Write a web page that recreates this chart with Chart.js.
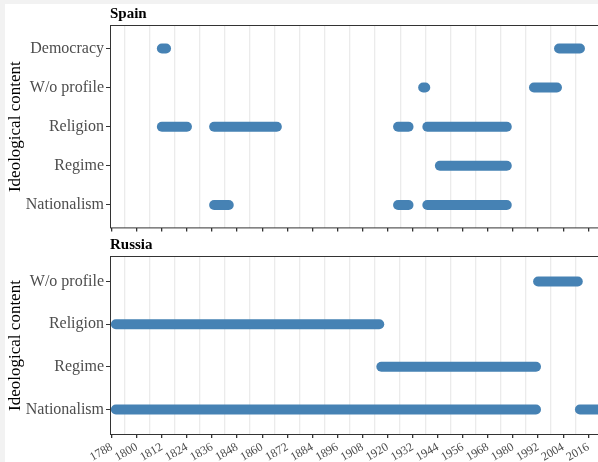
<!DOCTYPE html>
<html><head><meta charset="utf-8">
<script src="https://cdn.jsdelivr.net/npm/chart.js@4.4.0/dist/chart.umd.min.js"></script>
<style>
html,body{margin:0;padding:0;width:598px;height:462px;overflow:hidden;background:#f2f2f2;position:relative;}
#bg{position:absolute;left:5px;top:4px;width:593px;height:458px;background:#fff;}
canvas{position:absolute;left:0;}
#spain{top:0}
#russia{top:232px}
</style></head><body>
<div id="bg"></div>
<canvas id="spain" width="610" height="240"></canvas>
<canvas id="russia" width="610" height="230"></canvas>
<script>
// Tick labels on the year axis and the light vertical gridlines between them
const xTickLabels = [1788,1800,1812,1824,1836,1848,1860,1872,1884,1896,1908,1920,1932,1944,1956,1968,1980,1992,2004,2016];
const xGridYears  = [1794,1806,1818,1830,1842,1854,1866,1878,1890,1902,1914,1926,1938,1950,1962,1974,1986,1998,2010,2022];

// Spain (categories listed bottom to top)
const spainCategories = ['Nationalism','Regime','Religion','W/o profile','Democracy'];
const spainSegCategory = ['Democracy','Democracy','W/o profile','W/o profile','Religion','Religion','Religion','Religion','Regime','Nationalism','Nationalism','Nationalism'];
const spainSegStart    = [1812,2002,1937,1990,1812,1837,1925,1939,1945,1837,1925,1939];
const spainSegEnd      = [1814,2012,1938,2001,1824,1867,1930,1977,1977,1844,1930,1977];

// Russia (categories listed bottom to top)
const russiaCategories = ['Nationalism','Regime','Religion','W/o profile'];
const russiaSegCategory = ['W/o profile','Religion','Regime','Nationalism','Nationalism'];
const russiaSegStart    = [1992,1790,1917,1790,2012];
const russiaSegEnd      = [2011,1916,1991,1991,2022];

const allXTicks = xTickLabels.concat(xGridYears).sort((a,b)=>a-b);
const FONT = '"Liberation Serif", "Times New Roman", serif';
const BAR = '#4682B4';

const panelPlugin = {
  id: 'panel',
  afterDraw(chart, args, opts) {
    const {ctx, chartArea: a} = chart;
    ctx.save();
    ctx.strokeStyle = '#333333';
    ctx.lineWidth = 1;
    ctx.strokeRect(a.left + 0.5, a.top + 0.5, a.right - a.left - 1, a.bottom - a.top - 1);
    ctx.fillStyle = '#000';
    ctx.font = 'bold 15px ' + FONT;
    ctx.textAlign = 'left';
    ctx.textBaseline = 'alphabetic';
    ctx.fillText(opts.text, a.left, a.top - 7);
    ctx.restore();
  }
};

function makeChart(id, cats, segCat, segStart, segEnd, title, showX, padTop, xHeight) {
  const datasets = segStart.map((s, i) => {
    const yi = cats.indexOf(segCat[i]);
    return {
      data: [{x: s, y: yi}, {x: segEnd[i], y: yi}],
      showLine: true,
      borderColor: BAR,
      backgroundColor: BAR,
      borderWidth: 10,
      borderCapStyle: 'round',
      pointRadius: 0,
      pointHoverRadius: 0
    };
  });
  return new Chart(document.getElementById(id), {
    type: 'scatter',
    data: {datasets},
    plugins: [panelPlugin],
    options: {
      responsive: false,
      animation: false,
      devicePixelRatio: 1,
      events: [],
      layout: {padding: {top: padTop, left: 0, right: 0, bottom: 0}},
      plugins: {legend: {display: false}, tooltip: {enabled: false}, panel: {text: title}},
      scales: {
        x: {
          type: 'linear', min: 1787.19, max: 2026.38,
          afterBuildTicks: ax => { ax.ticks = allXTicks.map(v => ({value: v})); },
          afterFit: s => { s.height = xHeight; },
          ticks: {
            display: showX, autoSkip: false, minRotation: 30, maxRotation: 30, padding: 2,
            color: '#4d4d4d', font: {family: FONT, size: 12},
            callback: v => xTickLabels.includes(v) ? String(v) : ''
          },
          grid: {
            color: c => (c.tick && xGridYears.includes(c.tick.value)) ? '#ebebeb' : 'rgba(0,0,0,0)',
            lineWidth: 1.3,
            drawTicks: true, tickLength: 3,
            tickColor: c => (c.tick && xTickLabels.includes(c.tick.value)) ? '#333333' : 'rgba(0,0,0,0)'
          },
          border: {display: false}
        },
        y: {
          type: 'linear', min: -0.6, max: cats.length - 1 + 0.6,
          afterBuildTicks: ax => { ax.ticks = cats.map((c, i) => ({value: i})); },
          afterFit: s => { s.width = 110; },
          ticks: {autoSkip: false, padding: 2, color: '#4d4d4d', font: {family: FONT, size: 16}, callback: v => cats[v]},
          grid: {drawOnChartArea: false, drawTicks: true, tickLength: 4, tickColor: '#333333'},
          border: {display: false},
          title: {display: true, text: 'Ideological content', color: '#000', font: {family: FONT, size: 17}, padding: {top: 5, bottom: 0}}
        }
      }
    }
  });
}

makeChart('spain', spainCategories, spainSegCategory, spainSegStart, spainSegEnd, 'Spain', false, 25, 11);
makeChart('russia', russiaCategories, russiaSegCategory, russiaSegStart, russiaSegEnd, 'Russia', true, 24, 27);
</script>
</body></html>
